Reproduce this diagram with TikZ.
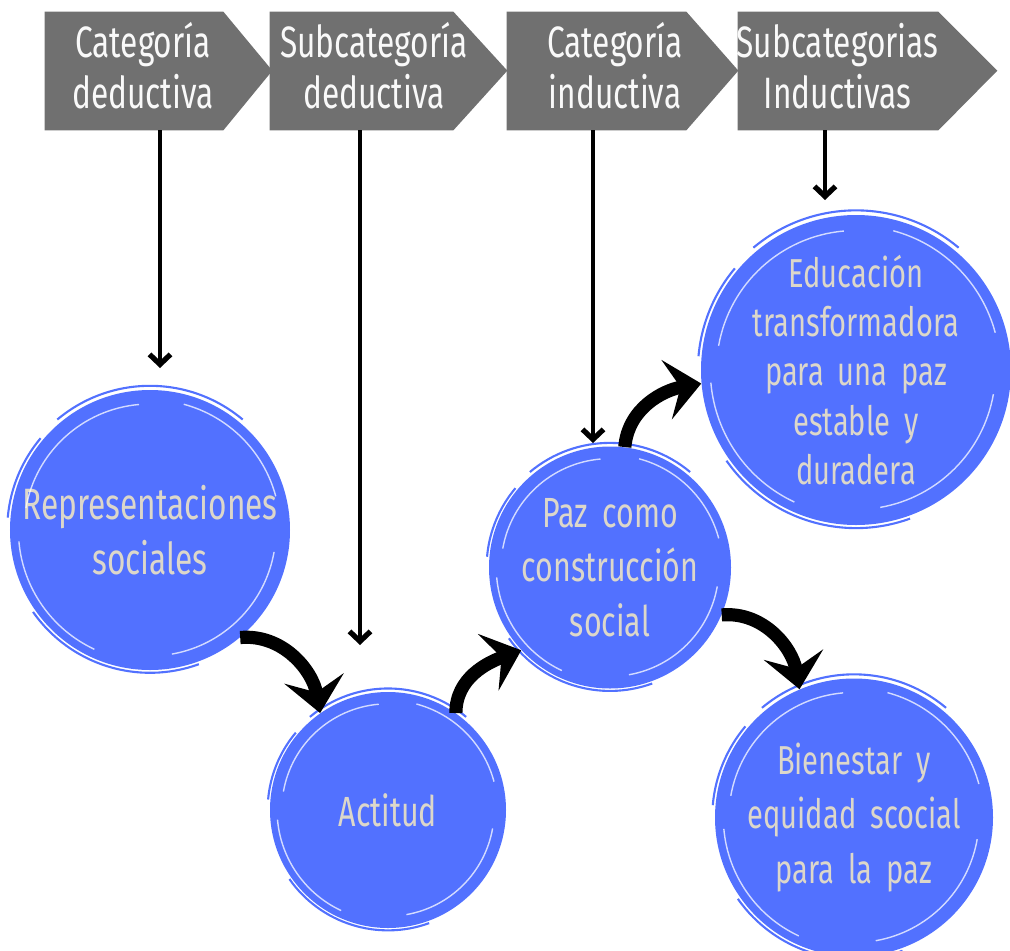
\documentclass[tikz,border=0pt]{standalone}
\usepackage{fontspec}
\newfontfamily\handfont[FakeStretch=0.72,WordSpace=1.8]{Fira Sans}
\usetikzlibrary{arrows.meta}

\definecolor{chevgray}{HTML}{707070}
\definecolor{brushblue}{HTML}{5271FF}
\definecolor{chalk}{HTML}{DCD7CA}

\tikzset{
	chev/.style={minimum height=2.36cm, inner sep=0pt},
	headtxt/.style={text=white!95!gray, align=center, font=\handfont\fontsize{25}{29}\selectfont},
	blob/.style={circle, fill=brushblue, inner sep=0pt, align=center, text=chalk,
		font=\handfont\fontsize{23}{28}\selectfont},
	pin/.style={line width=2.3pt, -{Straight Barb[length=0.2cm,width=0.42cm,line width=3pt]}},
	swoop/.style={line width=7.5pt, -{Stealth[length=0.7cm,width=1.2cm,inset=0.28cm]}},
	brushline/.style={white, line width=0.8pt, opacity=0.75},
}

% rough brush edge round a circle node: #1 node, #2 radius
\newcommand\brushring[2]{%
	\foreach \a/\b/\f in {95/170/0.9, 185/245/0.94, 280/350/0.9, 15/75/0.93}
		\draw[brushline] (#1.center) ++(\a:\f*#2) arc[start angle=\a, end angle=\b, radius=\f*#2];
	\foreach \a/\b/\f in {50/130/1.03, 215/290/1.02, 140/175/1.02}
		\draw[brushblue, line width=1.2pt] (#1.center) ++(\a:\f*#2) arc[start angle=\a, end angle=\b, radius=\f*#2];
}

\begin{document}
\begin{tikzpicture}
	\useasboundingbox (0,0) rectangle (20.2,-19.02);
	% header
	\node[chev, minimum width=3.56cm] (cd) at (2.68,-1.42) {};
	\fill[chevgray] (cd.north west) -- (cd.north east) -- ++(0.98,-1.18) -- (cd.south east) -- (cd.south west) -- cycle;
	\node[chev, minimum width=3.66cm] (sd) at (7.23,-1.42) {};
	\fill[chevgray] (sd.north west) -- (sd.north east) -- ++(1.08,-1.18) -- (sd.south east) -- (sd.south west) -- cycle;
	\node[chev, minimum width=3.58cm] (ci) at (11.93,-1.42) {};
	\fill[chevgray] (ci.north west) -- (ci.north east) -- ++(1.04,-1.18) -- (ci.south east) -- (ci.south west) -- cycle;
	\node[chev, minimum width=4.0cm] (si) at (16.76,-1.42) {};
	\fill[chevgray] (si.north west) -- (si.north east) -- ++(1.18,-1.18) -- (si.south east) -- (si.south west) -- cycle;
	\node[headtxt] (cdt) at (2.86,-1.32) {Categoría\\deductiva};
	\node[headtxt] (sdt) at (7.48,-1.32) {Subcategoría\\deductiva};
	\node[headtxt] (cit) at (12.3,-1.32) {Categoría\\inductiva};
	\node[headtxt] (sit) at (16.75,-1.32) {Subcategorias\\Inductivas};
	
	% circles
	\node[blob, minimum size=5.6cm, font=\handfont\fontsize{25}{31}\selectfont] (rs) at (3.0,-10.6) {Representaciones\\sociales};
	\node[blob, minimum size=4.72cm, font=\handfont\fontsize{24}{28}\selectfont] (act) at (7.76,-16.2) {Actitud};
	\node[blob, minimum size=4.84cm, font=\handfont\fontsize{24}{31}\selectfont] (paz) at (12.2,-11.35) {Paz como\\construcción\\social};
	\node[blob, minimum size=6.2cm] (edu) at (17.12,-7.4) {Educación\\transformadora\\para una paz\\estable y\\duradera};
	\node[blob, minimum size=5.56cm, font=\handfont\fontsize{23}{31}\selectfont] (bien) at (17.08,-16.35) {Bienestar y\\equidad scocial\\para la paz};
	\brushring{rs}{2.8}
	\brushring{act}{2.36}
	\brushring{paz}{2.42}
	\brushring{edu}{3.1}
	\brushring{bien}{2.78}
	
	% down arrows
	\coordinate (d1) at (3.2,-7.36);
	\coordinate (d2) at (7.2,-12.9);
	\coordinate (d3) at (11.86,-8.86);
	\coordinate (d4) at (16.5,-4.0);
	\draw[pin] (cd.south -| d1) -- (d1);
	\draw[pin] (sd.south -| d2) -- (d2);
	\draw[pin] (ci.south -| d3) -- (d3);
	\draw[pin] (si.south -| d4) -- (d4);
	
	% curved arrows
	\draw[swoop] (rs.-50) to[out=5, in=100] (act.125);
	\draw[swoop] (act.55) to[out=90, in=200] (paz.223);
	\draw[swoop] (paz.83) to[out=85, in=190] (edu.185);
	\draw[swoop] (paz.-23) to[out=5, in=100] (bien.113);
\end{tikzpicture}
\end{document}
